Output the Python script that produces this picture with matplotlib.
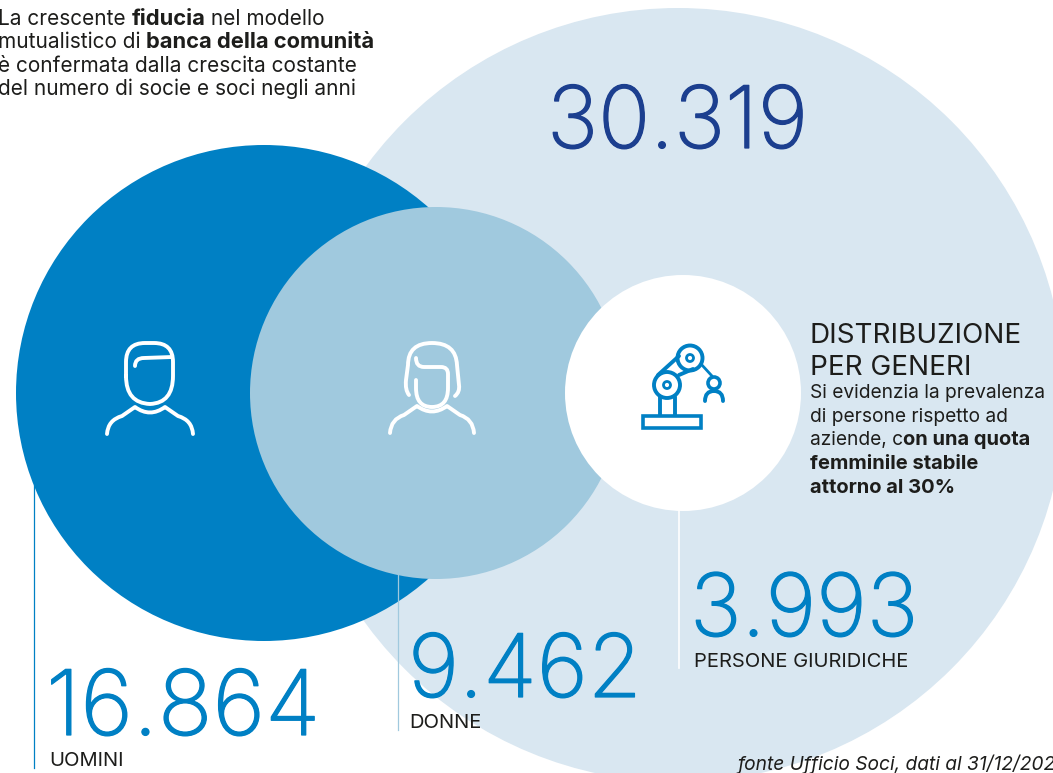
import matplotlib
matplotlib.use('Agg')
import matplotlib.pyplot as plt
import matplotlib.patheffects as pe
from matplotlib.patches import Circle, Rectangle, PathPatch
from matplotlib.path import Path

#values and labels
totale = '30.319'
uomini = '16.864'
donne = '9.462'
giuridiche = '3.993'
label_uomini = 'UOMINI'
label_donne = 'DONNE'
label_giuridiche = 'PERSONE GIURIDICHE'
titolo = ['DISTRIBUZIONE', 'PER GENERI']
fonte = 'fonte Ufficio Soci, dati al 31/12/2024'

intro = [[('La crescente ', 0), ('fiducia', 1), (' nel modello', 0)],
         [('mutualistico di ', 0), ('banca della comunità', 1)],
         [('è confermata dalla crescita costante', 0)],
         [('del numero di socie e soci negli anni', 0)]]
nota = [[('Si evidenzia la prevalenza', 0)],
        [('di persone rispetto ad', 0)],
        [('aziende, c', 0), ('on una quota', 1)],
        [('femminile stabile', 1)],
        [('attorno al 30%', 1)]]

BLUE = '#0080c4'
LIGHT = '#a0c9de'
PALE = '#d9e7f1'
DARK = '#1c3f8f'
INK = '#1d1d1b'
FONT = 'Inter'

fig = plt.figure(figsize=(10.53, 7.73), dpi=100)
ax = fig.add_axes([0, 0, 1, 1])
ax.set_xlim(0, 1053)
ax.set_ylim(773, 0)
ax.axis('off')

#circles, back to front
ax.add_patch(Circle((678, 395), 387, fc=PALE, ec='none', zorder=1))
ax.add_patch(Circle((264, 393), 248, fc=BLUE, ec='none', zorder=2))
ax.add_patch(Circle((436, 393), 186, fc=LIGHT, ec='none', zorder=3))
ax.add_patch(Circle((683, 393), 118, fc='white', ec='none', zorder=4))

#leader lines
ax.plot([34, 34], [485, 768], color=BLUE, lw=0.9, zorder=5)
ax.plot([398, 398], [575, 730], color=LIGHT, lw=0.9, zorder=5)
ax.plot([679, 679], [511, 668], color='white', lw=1.2, zorder=5)


def curve(pts, color, lw=2.8):
    #pts: first point then line ends or (control, end) quadratic segments
    verts = [pts[0]]
    codes = [Path.MOVETO]
    for p in pts[1:]:
        if len(p) == 4:
            verts += [p[:2], p[2:]]
            codes += [Path.CURVE3, Path.CURVE3]
        else:
            verts.append(p)
            codes.append(Path.LINETO)
    ax.add_patch(PathPatch(Path(verts, codes), fc='none', ec=color, lw=lw,
                           capstyle='round', joinstyle='round', zorder=6))


#man icon
curve([(126, 376), (126, 362), (126, 343, 145, 343), (154, 343), (173, 343, 173, 362),
       (173, 376), (173, 403, 150, 404), (126, 403, 126, 376)], 'white')
curve([(135, 366), (135, 358, 144, 358), (172, 357)], 'white')
curve([(107, 434), (108, 420, 122, 416), (135, 407), (150, 418, 165, 407), (178, 416), (192, 420, 193, 434)], 'white')

#woman icon
curve([(409, 395), (405, 390, 406, 380), (408, 365), (408, 343, 432, 343), (456, 343, 457, 365),
       (459, 385), (460, 392, 455, 396)], 'white')
curve([(416, 358), (416, 367, 424, 367), (441, 367), (448, 367, 448, 374), (448, 388),
       (448, 407, 432, 407), (416, 407, 416, 388), (416, 380)], 'white')
curve([(390, 433), (391, 419, 404, 415), (417, 406), (432, 417, 447, 406), (460, 415), (473, 419, 474, 433)], 'white')

#robot icon
ax.add_patch(Rectangle((642.5, 415.5), 58, 12, fc='none', ec=BLUE, lw=2.6, zorder=6))
for c, r1, r2 in [((667, 385), 13, 3.5), ((690, 358), 12.5, 3.5)]:
    ax.add_patch(Circle(c, r1, fc='none', ec=BLUE, lw=2.8, zorder=6))
    ax.add_patch(Circle(c, r2, fc='none', ec=BLUE, lw=2, zorder=6))
curve([(658, 375), (679, 356)], BLUE)
curve([(679, 375), (693, 369)], BLUE)
curve([(660, 397), (660, 415)], BLUE)
curve([(675, 397), (675, 415)], BLUE)
curve([(701, 364), (712, 376)], BLUE, lw=2)
ax.add_patch(Circle((714, 383), 6, fc='none', ec=BLUE, lw=2.6, zorder=6))
curve([(705, 401), (705, 391, 714, 391), (723, 391, 723, 401)], BLUE)

renderer = fig.canvas.get_renderer()


def width(s, size, weight):
    #trailing spaces are not measured, so measure against a sentinel
    a = ax.text(0, 0, s + '.', fontsize=size, fontweight=weight, family=FONT)
    b = ax.text(0, 0, '.', fontsize=size, fontweight=weight, family=FONT)
    w = a.get_window_extent(renderer).width - b.get_window_extent(renderer).width
    a.remove()
    b.remove()
    return w


def rich(x, y, lines, size, step):
    for i, parts in enumerate(lines):
        px = x
        for s, bold in parts:
            weight = 'bold' if bold else 'normal'
            sz = size * 1.05 if bold else size
            ax.text(px, y + i * step, s, fontsize=sz, fontweight=weight, family=FONT,
                    color=INK, va='baseline', zorder=7)
            px += width(s, sz, weight)


rich(-2, 25, intro, 15, 23.4)
rich(810, 398, nota, 13.8, 23.7)

for i, s in enumerate(titolo):
    ax.text(810, 343 + i * 32, s, fontsize=20, family=FONT, color=INK, va='baseline', zorder=7)


def numero(x, y, s, size, color):
    ax.text(x, y, s, fontsize=size, family=FONT, fontweight='light', color=color, va='baseline',
            zorder=7, path_effects=[pe.withStroke(linewidth=0.9, foreground=color)])


numero(547, 148, totale, 62, DARK)
numero(46, 735, uomini, 65, BLUE)
numero(408, 697, donne, 63, BLUE)
numero(690, 636, giuridiche, 62.5, BLUE)

ax.text(49, 766, label_uomini, fontsize=14.5, family=FONT, color=INK, va='baseline', zorder=7)
ax.text(409, 728, label_donne, fontsize=14.5, family=FONT, color=INK, va='baseline', zorder=7)
ax.text(694, 667, label_giuridiche, fontsize=14.5, family=FONT, color=INK, va='baseline', zorder=7)

ax.text(738, 770, fonte, fontsize=13.8, family=FONT, style='italic', color=INK, va='baseline', zorder=7)

fig.savefig('out.png', dpi=100)
